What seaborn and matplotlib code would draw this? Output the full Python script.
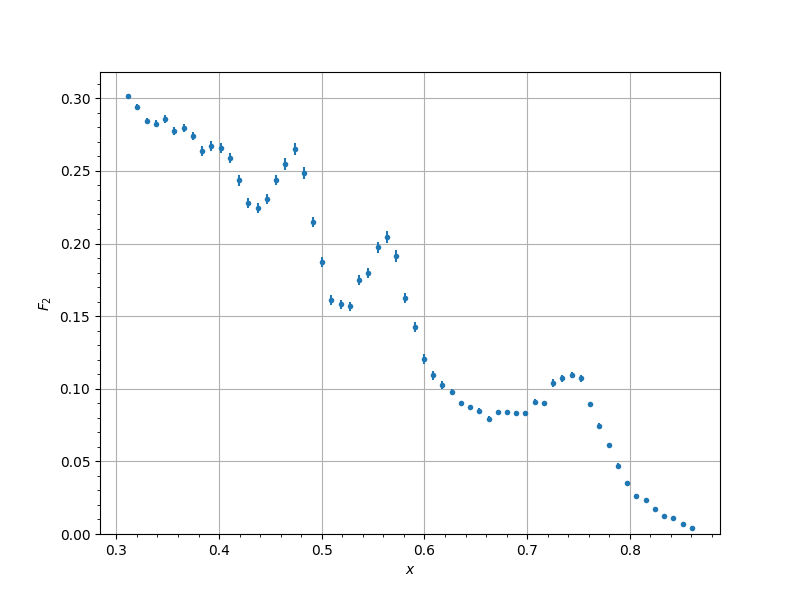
import numpy as np
import pandas as pd
import matplotlib
matplotlib.use("Agg")
import matplotlib.pyplot as plt
import seaborn as sns
from matplotlib.ticker import MultipleLocator

x_vals = [0.3115, 0.3202, 0.3300, 0.3387, 0.3475, 0.3563, 0.3660, 0.3747, 0.3835, 0.3923,
          0.4020, 0.4108, 0.4195, 0.4283, 0.4380, 0.4468, 0.4555, 0.4643, 0.4740, 0.4828,
          0.4915, 0.5003, 0.5091, 0.5188, 0.5275, 0.5363, 0.5451, 0.5548, 0.5636, 0.5723,
          0.5811, 0.5908, 0.5996, 0.6083, 0.6171, 0.6268, 0.6356, 0.6443, 0.6531, 0.6628,
          0.6716, 0.6803, 0.6891, 0.6979, 0.7076, 0.7163, 0.7251, 0.7339, 0.7436, 0.7523,
          0.7611, 0.7699, 0.7796, 0.7884, 0.7971, 0.8059, 0.8156, 0.8243, 0.8331, 0.8419,
          0.8516, 0.8604]
f2_vals = [0.3016, 0.2940, 0.2843, 0.2825, 0.2857, 0.2774, 0.2793, 0.2740, 0.2637, 0.2671,
           0.2657, 0.2588, 0.2437, 0.2278, 0.2243, 0.2306, 0.2437, 0.2547, 0.2650, 0.2485,
           0.2147, 0.1871, 0.1609, 0.1581, 0.1568, 0.1747, 0.1795, 0.1974, 0.2043, 0.1912,
           0.1623, 0.1423, 0.1202, 0.1092, 0.1023, 0.0981, 0.0899, 0.0871, 0.0850, 0.0795,
           0.0837, 0.0837, 0.0830, 0.0830, 0.0912, 0.0899, 0.1037, 0.1071, 0.1092, 0.1071,
           0.0892, 0.0747, 0.0616, 0.0471, 0.0354, 0.0264, 0.0237, 0.0174, 0.0126, 0.0112,
           0.0071, 0.0043]
f2_err = [0.0015, 0.0018, 0.0020, 0.0023, 0.0028, 0.0028, 0.0028, 0.0028, 0.0034, 0.0034,
          0.0034, 0.0034, 0.0038, 0.0034, 0.0034, 0.0034, 0.0034, 0.0040, 0.0041, 0.0041,
          0.0034, 0.0034, 0.0034, 0.0030, 0.0030, 0.0034, 0.0034, 0.0038, 0.0041, 0.0041,
          0.0034, 0.0034, 0.0034, 0.0030, 0.0028, 0.0020, 0.0015, 0.0015, 0.0015, 0.0015,
          0.0015, 0.0015, 0.0015, 0.0015, 0.0020, 0.0020, 0.0028, 0.0022, 0.0020, 0.0022,
          0.0020, 0.0015, 0.0012, 0.0015, 0.0012, 0.0010, 0.0010, 0.0010, 0.0008, 0.0008,
          0.0008, 0.0008]

df = pd.DataFrame({"x": x_vals, "F2": f2_vals, "err": f2_err})

fig, ax = plt.subplots(figsize=(8, 6), dpi=100)
color = "#1f77b4"
ax.errorbar(df["x"], df["F2"], yerr=df["err"], fmt="none", ecolor=color,
            elinewidth=1.5, zorder=2)
sns.scatterplot(data=df, x="x", y="F2", ax=ax, color=color, s=16,
                linewidth=0, marker="o", zorder=3)

ax.set_ylim(bottom=0)
ax.grid(True, which="major")
ax.set_axisbelow(True)
ax.xaxis.set_minor_locator(MultipleLocator(0.02))
ax.yaxis.set_minor_locator(MultipleLocator(0.01))
ax.set_xlabel("$x$")
ax.set_ylabel("$F_2$")

fig.savefig("out.png", dpi=100)
